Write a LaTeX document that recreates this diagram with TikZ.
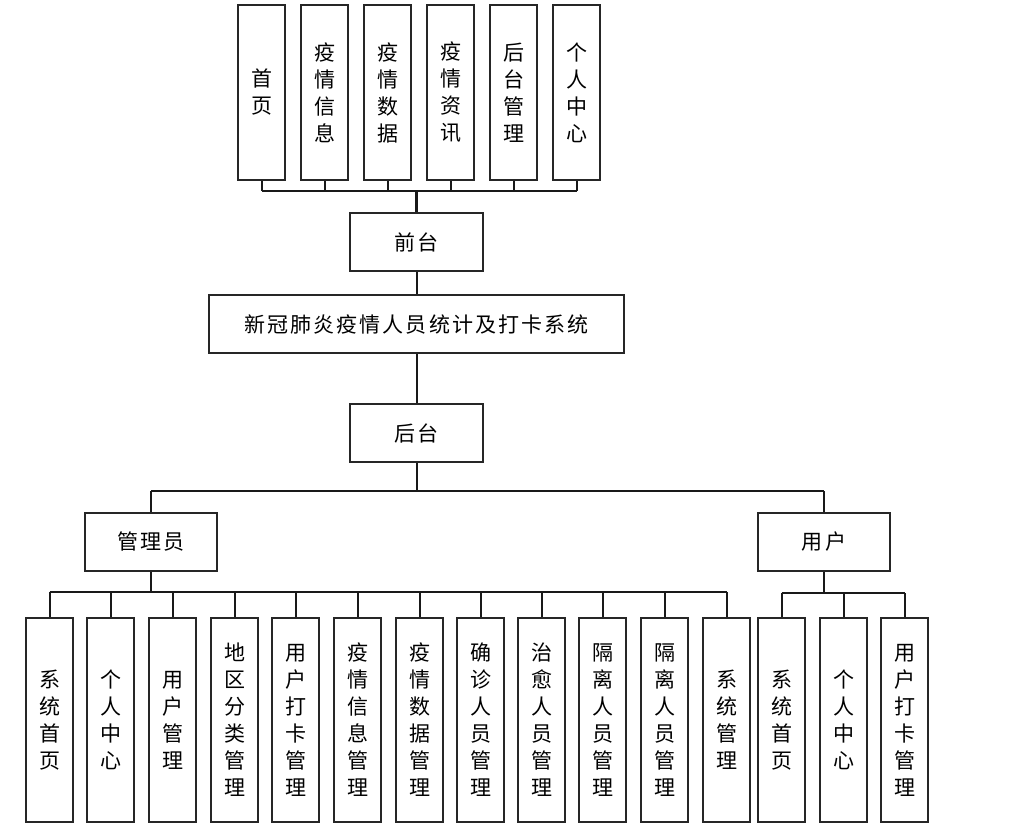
\documentclass[tikz,border=0pt]{standalone}
\usepackage{fontspec}
\setmainfont{Noto Sans CJK SC}
\begin{document}
\begin{tikzpicture}[x=1pt,y=-1pt,
  conn/.style={draw=black!90,line width=2pt},
  box/.style={draw=black!85,line width=2pt,fill=white,inner sep=0pt,align=center,
    font=\fontsize{21pt}{27pt}\selectfont},
  vbox/.style={box,minimum width=47pt},
  hbox/.style={box,minimum height=58pt,font=\fontsize{21pt}{27pt}\selectfont\addfontfeatures{LetterSpace=10}},
]
\useasboundingbox (0,0) rectangle (1025,831);
% top row
\node[vbox,minimum height=175pt] (t1) at (261.5,92.5) {首\\页};
\node[vbox,minimum height=175pt] (t2) at (324.5,92.5) {疫\\情\\信\\息};
\node[vbox,minimum height=175pt] (t3) at (387.5,92.5) {疫\\情\\数\\据};
\node[vbox,minimum height=175pt] (t4) at (450.5,92.5) {疫\\情\\资\\讯};
\node[vbox,minimum height=175pt] (t5) at (513.5,92.5) {后\\台\\管\\理};
\node[vbox,minimum height=175pt] (t6) at (576.5,92.5) {个\\人\\中\\心};
% middle
\node[hbox,minimum width=133pt] (qt) at (416.5,242) {前台};
\node[hbox,minimum width=415pt] (sys) at (416.5,324) {新冠肺炎疫情人员统计及打卡系统};
\node[hbox,minimum width=133pt] (ht) at (416.5,433) {后台};
\node[hbox,minimum width=132pt] (adm) at (151,542) {管理员};
\node[hbox,minimum width=132pt] (usr) at (824,542) {用户};
% bottom row
\node[vbox,minimum height=204pt] (a1) at (49.5,720) {系\\统\\首\\页};
\node[vbox,minimum height=204pt] (a2) at (110.5,720) {个\\人\\中\\心};
\node[vbox,minimum height=204pt] (a3) at (172.5,720) {用\\户\\管\\理};
\node[vbox,minimum height=204pt] (a4) at (234.5,720) {地\\区\\分\\类\\管\\理};
\node[vbox,minimum height=204pt] (a5) at (295.5,720) {用\\户\\打\\卡\\管\\理};
\node[vbox,minimum height=204pt] (a6) at (357.5,720) {疫\\情\\信\\息\\管\\理};
\node[vbox,minimum height=204pt] (a7) at (419.5,720) {疫\\情\\数\\据\\管\\理};
\node[vbox,minimum height=204pt] (a8) at (480.5,720) {确\\诊\\人\\员\\管\\理};
\node[vbox,minimum height=204pt] (a9) at (541.5,720) {治\\愈\\人\\员\\管\\理};
\node[vbox,minimum height=204pt] (a10) at (602.5,720) {隔\\离\\人\\员\\管\\理};
\node[vbox,minimum height=204pt] (a11) at (664.5,720) {隔\\离\\人\\员\\管\\理};
\node[vbox,minimum height=204pt] (a12) at (726.5,720) {系\\统\\管\\理};
\node[vbox,minimum height=204pt] (u1) at (781.5,720) {系\\统\\首\\页};
\node[vbox,minimum height=204pt] (u2) at (843.5,720) {个\\人\\中\\心};
\node[vbox,minimum height=204pt] (u3) at (904.5,720) {用\\户\\打\\卡\\管\\理};
% buses
\coordinate (topbus) at (0,191);
\coordinate (midbus) at (0,491);
\coordinate (admbus) at (0,592);
\coordinate (usrbus) at (0,593);
% top connectors
\foreach \n in {t1,t2,t3,t4,t5,t6}
  \draw[conn] (\n.south) -- (\n.south |- topbus);
\draw[conn] (t1.south |- topbus) -- (t6.south |- topbus);
\draw[conn,line width=2.6pt] (qt.north |- topbus) -- (qt.north);
\draw[conn] (qt) -- (sys);
\draw[conn] (sys) -- (ht);
\draw[conn] (ht.south) -- (ht.south |- midbus);
\draw[conn] (adm.north |- midbus) -- (usr.north |- midbus);
\draw[conn] (adm.north |- midbus) -- (adm.north);
\draw[conn] (usr.north |- midbus) -- (usr.north);
% admin connectors
\draw[conn] (adm.south) -- (adm.south |- admbus);
\draw[conn] (a1.north |- admbus) -- (a12.north |- admbus);
\foreach \n in {a1,a2,a3,a4,a5,a6,a7,a8,a9,a10,a11,a12}
  \draw[conn] (\n.north |- admbus) -- (\n.north);
% user connectors
\draw[conn] (usr.south) -- (usr.south |- usrbus);
\draw[conn] (u1.north |- usrbus) -- (u3.north |- usrbus);
\foreach \n in {u1,u2,u3}
  \draw[conn] (\n.north |- usrbus) -- (\n.north);
\end{tikzpicture}
\end{document}
